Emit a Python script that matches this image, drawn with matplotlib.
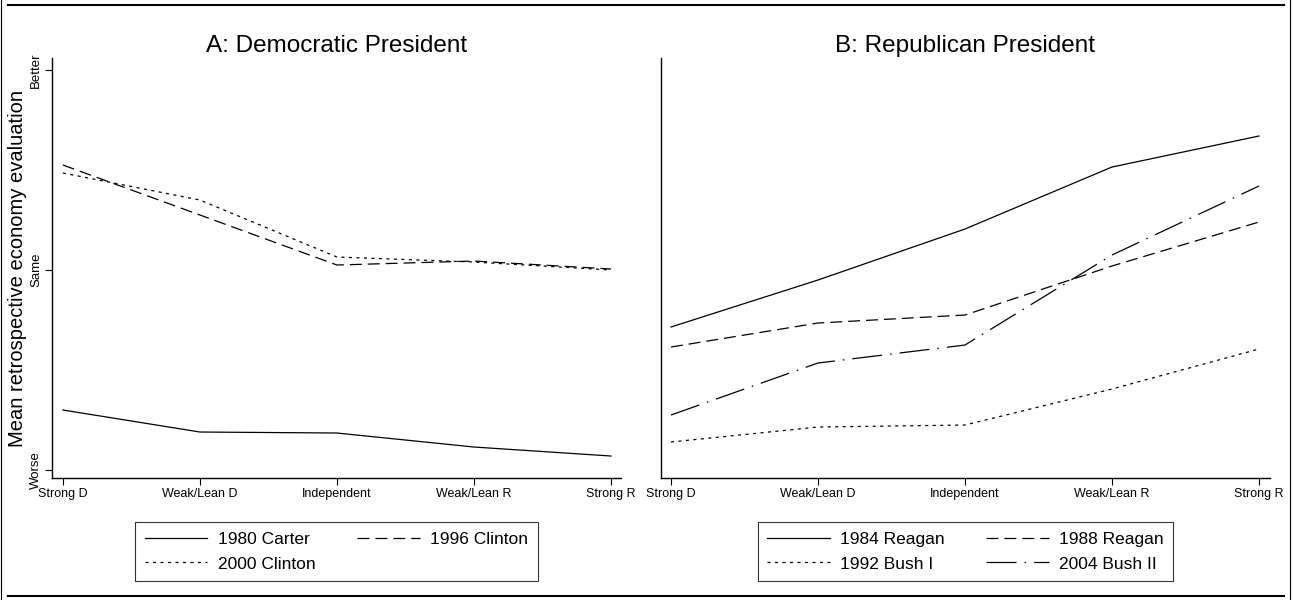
import matplotlib
matplotlib.use("Agg")
import matplotlib.pyplot as plt
from matplotlib.lines import Line2D

plt.rcParams['font.family'] = ['Liberation Sans', 'DejaVu Sans']
plt.rcParams['lines.scale_dashes'] = False

party = ["Strong D", "Weak/Lean D", "Independent", "Weak/Lean R", "Strong R"]
pos = [1, 2, 3, 4, 5]
eval_ticks = [-1, 0, 1]
eval_labels = ["Worse", "Same", "Better"]

# panel A: democratic presidents
carter_1980 = [-0.70, -0.81, -0.815, -0.885, -0.93]
clinton_1996 = [0.525, 0.275, 0.025, 0.045, 0.005]
clinton_2000 = [0.485, 0.35, 0.065, 0.04, 0.0]

# panel B: republican presidents
reagan_1984 = [-0.285, -0.05, 0.205, 0.515, 0.67]
reagan_1988 = [-0.385, -0.265, -0.225, 0.02, 0.24]
bush_1992 = [-0.86, -0.785, -0.775, -0.595, -0.395]
bush_2004 = [-0.725, -0.465, -0.375, 0.075, 0.42]

solid = '-'
dash = (0, (8.6, 4.3))
dot = (0, (2.2, 3.2))
dashdot = (0, (21.6, 5.8, 1.1, 5.8))
lw = 0.9

fig = plt.figure(figsize=(12.93, 6), dpi=100)
axA = fig.add_axes([0.0402, 0.2033, 0.4401, 0.70])
axB = fig.add_axes([0.5112, 0.2033, 0.4710, 0.70])

lA1, = axA.plot(pos, carter_1980, color='black', lw=lw, ls=solid)
lA2, = axA.plot(pos, clinton_1996, color='black', lw=lw, ls=dash)
lA3, = axA.plot(pos, clinton_2000, color='black', lw=lw, ls=dot)

lB1, = axB.plot(pos, reagan_1984, color='black', lw=lw, ls=solid)
lB2, = axB.plot(pos, reagan_1988, color='black', lw=lw, ls=dash)
lB3, = axB.plot(pos, bush_1992, color='black', lw=lw, ls=dot)
lB4, = axB.plot(pos, bush_2004, color='black', lw=lw, ls=dashdot)

axA.set_xlim(0.92, 5.073)
axB.set_xlim(0.932, 5.075)

for ax in (axA, axB):
    ax.set_ylim(-1.04, 1.06)
    for s in ('top', 'right'):
        ax.spines[s].set_visible(False)
    for s in ('left', 'bottom'):
        ax.spines[s].set_linewidth(1.0)
    ax.set_xticks(pos)
    ax.set_xticklabels(party, fontsize=9)
    ax.tick_params(direction='out', length=5, width=0.8, pad=2)

axA.set_yticks(eval_ticks)
axA.set_yticklabels(eval_labels, rotation=90, va='center', fontsize=9.5)
axB.set_yticks([])

axA.set_ylabel("Mean retrospective economy evaluation", fontsize=14.5, labelpad=2)
axA.set_title("A: Democratic President", fontsize=17.5, pad=4)
axB.set_title("B: Republican President", fontsize=17.5, pad=4)

leg_kw = dict(ncol=2, loc='upper center', borderaxespad=0, fontsize=12.5,
              handlelength=3.6, handletextpad=0.6, columnspacing=2.4,
              frameon=True, fancybox=False, edgecolor='black',
              borderpad=0.55, labelspacing=0.55)
legA = axA.legend([lA1, lA3, lA2], ["1980 Carter", "2000 Clinton", "1996 Clinton"],
                  bbox_to_anchor=(0.5, -0.105), **leg_kw)
legA.get_frame().set_linewidth(0.8)
legB = axB.legend([lB1, lB3, lB2, lB4], ["1984 Reagan", "1992 Bush I", "1988 Reagan", "2004 Bush II"],
                  bbox_to_anchor=(0.5, -0.105), **leg_kw)
legB.get_frame().set_linewidth(0.8)

# page rules around the figure
fig.add_artist(Line2D([0.006, 0.993], [0.992, 0.992], color='black', lw=1.5, transform=fig.transFigure))
fig.add_artist(Line2D([0.006, 0.993], [0.006, 0.006], color='black', lw=1.5, transform=fig.transFigure))
fig.add_artist(Line2D([0.001, 0.001], [0, 1], color='black', lw=0.8, transform=fig.transFigure))
fig.add_artist(Line2D([0.998, 0.998], [0, 1], color='black', lw=0.8, transform=fig.transFigure))

fig.savefig("out.png", dpi=100)
